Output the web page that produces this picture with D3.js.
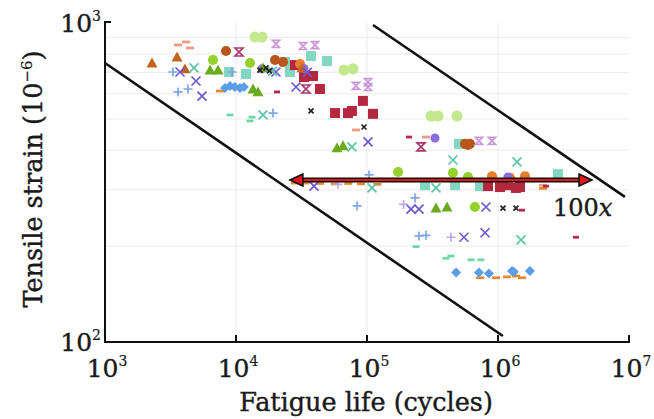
<!DOCTYPE html>
<html><head><meta charset="utf-8">
<script src="https://cdn.jsdelivr.net/npm/d3@7"></script>
<style>body{margin:0;background:#fff}svg{display:block}</style>
</head><body>
<svg id="c" width="654" height="419"></svg>
<script>
// ---- data: [fatigue life (cycles), tensile strain (1e-6)] ----
const xTicks = [1e3, 1e4, 1e5, 1e6, 1e7];
const xTickExp = ["3", "4", "5", "6", "7"];
const yTicks = [1e2, 1e3];
const yTickExp = ["2", "3"];
const yGrid = [200, 300, 400, 500, 600, 700, 800, 900];
const xGrid = [1e4, 1e5, 1e6];

const brownTriangles = [[2285,749],[3548,782],[4080,718],[31920,723]];
const brownCircles = [[8390,817],[19860,766],[22850,755],[559800,418],[611000,418],[590200,415]];
const orangeCircles = [[30830,744],[899500,331],[1607000,331],[1236000,327]];
const paleGreenCircles = [[13960,904],[15790,904],[66680,712],[78160,718],[308300,511],[348300,511],[486400,511]];
const limeCircles = [[6670,766],[12790,749],[172600,341],[452900,339],[590200,329],[666800,265]];
const greenTriangles = [[6340,712],[7290,712],[13490,621],[14720,608],[59020,406],[65610,412],[336500,263],[408300,265],[16070,723]];
const tealSquares = [[8850,702],[11920,692],[23660,755],[37400,788],[49550,760],[503500,418],[2871000,336],[277300,310],[469900,310],[729400,308],[25820,702]];
const crimsonSquares = [[28200,738],[33040,677],[38730,682],[43750,621],[57020,522],[71610,522],[76740,530],[93110,570],[111100,519],[839500,308],[1035000,306],[1472000,306],[1191000,310],[1371000,304]];
const purpleX = [[3738,702],[4950,658],[5500,590],[28710,630],[101800,424],[39360,308],[216700,261],[249400,261],[809100,265],[549500,213],[796200,220],[20180,702],[35000,700]];
const magentaHourglass = [[10540,811],[34200,621],[258300,409]];
const pinkX = [[20180,860],[32450,847],[40090,853],[82410,635],[101800,653],[101800,630],[716100,427],[899500,427]];
const bluePlus = [[3606,608],[4300,621],[19150,522],[83950,267],[249400,215],[281800,216],[232400,283],[103500,334],[9310,702],[3300,702]];
const lilacPlus = [[190000,270],[437500,213],[60000,312]];
const tealX = [[4780,723],[16070,515],[76740,409],[452900,372],[1396000,367],[1500000,209],[336500,304],[109200,304],[19000,705]];
const salmonDash = [[3606,853],[4150,872],[4456,835],[82410,462],[281800,439],[2208000,310],[36000,317],[210000,320]];
const tealDash = [[8990,515],[12790,493],[13250,507],[236600,199],[400900,183],[437500,186],[622300,181],[741300,181]];
const blueDiamonds = [[8240,625],[9000,635],[9800,630],[10730,625],[11500,630],[479000,165],[716100,165],[853100,164],[1279000,167],[1320000,166],[1754000,167]];
const orangeDash = [[7550,612],[729400,159],[966000,159],[1172000,160],[1371000,161],[1524000,159],[28200,315],[33650,315],[43750,314],[57020,313],[72000,314],[90000,313],[120000,312],[2208000,303]];
const blackX = [[15240,712],[16940,723],[37400,530],[94840,472],[1092000,263],[1371000,263],[18000,708]];
const purpleCircles = [[15790,718],[330400,436],[1191000,329],[33000,720]];
const redDash = [[20560,608],[209400,439],[2323000,308],[1524000,259],[3936000,213]];

const boundLower = [[1000,749],[1090000,104.4]];
const boundUpper = [[111100,986],[9310000,285]];
const arrowSpan = [[25800,322],[5220000,322]];
const arrowLabel = {x: 2630000, y: 248, text: "100", italic: "x"};

// ---- layout ----
const svg = d3.select("#c");
const L = 105, R = 629, T = 23, B = 342;
const x = d3.scaleLog().domain([1e3, 1e7]).range([L, R]);
const y = d3.scaleLog().domain([1e2, 1e3]).range([B, T]);
const FONT = "DejaVu Serif";
const INK = "#1a1a1a";

// grid
svg.append("g").selectAll("line").data(yGrid).join("line")
  .attr("x1", L).attr("x2", R).attr("y1", d => y(d)).attr("y2", d => y(d))
  .attr("stroke", "#ebebeb").attr("stroke-width", 1);
svg.append("g").selectAll("line").data(xGrid).join("line")
  .attr("y1", T).attr("y2", B).attr("x1", d => x(d)).attr("x2", d => x(d))
  .attr("stroke", "#ebebeb").attr("stroke-width", 1);

// marker drawers
const g = svg.append("g");
function shape(data, kind, color, s) {
  const sel = g.append("g").selectAll("path").data(data).join("path")
    .attr("transform", d => `translate(${x(d[0])},${y(d[1])})`);
  const h = s / 2;
  if (kind === "circle") sel.attr("d", d3.symbol(d3.symbolCircle, s * s * 0.8)()).attr("fill", color);
  else if (kind === "square") sel.attr("d", `M${-h},${-h}H${h}V${h}H${-h}Z`).attr("fill", color);
  else if (kind === "triangle") sel.attr("d", `M0,${-h}L${h},${h * 0.8}L${-h},${h * 0.8}Z`).attr("fill", color);
  else if (kind === "diamond") sel.attr("d", `M0,${-h}L${h},0L0,${h}L${-h},0Z`).attr("fill", color);
  else if (kind === "x") sel.attr("d", `M${-h},${-h}L${h},${h}M${h},${-h}L${-h},${h}`).attr("stroke", color).attr("stroke-width", 1.7).attr("fill", "none");
  else if (kind === "hourglass") sel.attr("d", `M${-h},${-h}H${h}L${-h},${h}H${h}Z`).attr("stroke", color).attr("stroke-width", 1.7).attr("fill", "none");
  else if (kind === "plus") sel.attr("d", `M${-h},0H${h}M0,${-h}V${h}`).attr("stroke", color).attr("stroke-width", 1.7).attr("fill", "none");
  else if (kind === "dash") sel.attr("d", `M${-h},-1.4H${h}V1.4H${-h}Z`).attr("fill", color);
}
shape(paleGreenCircles, "circle", "#c4e88e", 11);
shape(tealDash, "dash", "#6fd8a6", 7);
shape(salmonDash, "dash", "#ee9a84", 8);
shape(orangeDash, "dash", "#e5892f", 8);
shape(tealSquares, "square", "#83d6c2", 10);
shape(crimsonSquares, "square", "#b3283f", 10);
shape(brownCircles, "circle", "#b8561c", 10);
shape(orangeCircles, "circle", "#e67f2c", 10);
shape(limeCircles, "circle", "#94d12a", 10);
shape(purpleCircles, "circle", "#8a6ee0", 9);
shape(blueDiamonds, "diamond", "#5b9de6", 10);
shape(brownTriangles, "triangle", "#c4631c", 11);
shape(greenTriangles, "triangle", "#6aab1f", 11);
shape(purpleX, "x", "#6f58cf", 9);
shape(pinkX, "hourglass", "#cc98d6", 7);
shape(magentaHourglass, "hourglass", "#a63a6c", 8);
shape(tealX, "x", "#5ec6a6", 9);
shape(blackX, "x", "#222", 5);
shape(bluePlus, "plus", "#7ea5e6", 9);
shape(lilacPlus, "plus", "#b9a9e6", 9);
shape(redDash, "dash", "#b8284a", 6);

// bound lines
const line = d3.line().x(d => x(d[0])).y(d => y(d[1]));
[boundLower, boundUpper].forEach(d => svg.append("path").attr("d", line(d))
  .attr("stroke", "#111").attr("stroke-width", 2.6).attr("fill", "none"));

// arrow
const ax1 = x(arrowSpan[0][0]), ax2 = x(arrowSpan[1][0]), ay = y(arrowSpan[0][1]);
const ah = 13, aw = 6;
svg.append("line").attr("x1", ax1 + ah - 2).attr("x2", ax2 - ah + 2).attr("y1", ay).attr("y2", ay)
  .attr("stroke", "#111").attr("stroke-width", 5);
svg.append("line").attr("x1", ax1 + ah - 2).attr("x2", ax2 - ah + 2).attr("y1", ay).attr("y2", ay)
  .attr("stroke", "#e01818").attr("stroke-width", 2);
svg.append("path").attr("d", `M${ax1},${ay}L${ax1 + ah},${ay - aw}L${ax1 + ah},${ay + aw}Z`)
  .attr("fill", "#e01818").attr("stroke", "#111").attr("stroke-width", 1.5);
svg.append("path").attr("d", `M${ax2},${ay}L${ax2 - ah},${ay - aw}L${ax2 - ah},${ay + aw}Z`)
  .attr("fill", "#e01818").attr("stroke", "#111").attr("stroke-width", 1.5);
const lab = svg.append("text").attr("x", x(arrowLabel.x)).attr("y", y(arrowLabel.y))
  .attr("font-family", FONT).attr("font-size", 24).attr("fill", INK)
  .attr("stroke", INK).attr("stroke-width", 0.4);
lab.append("tspan").text(arrowLabel.text);
lab.append("tspan").attr("font-style", "italic").text(arrowLabel.italic);

// axes
svg.append("path").attr("d", `M${L + 6},${T - 1}H${L}V${B}H${R}V${B - 7}`)
  .attr("stroke", "#111").attr("stroke-width", 2).attr("fill", "none");
svg.append("g").selectAll("line").data(xTicks.slice(1, 4)).join("line")
  .attr("x1", d => x(d)).attr("x2", d => x(d)).attr("y1", B).attr("y2", B - 7)
  .attr("stroke", "#111").attr("stroke-width", 2);

const xl = svg.append("g").selectAll("text").data(xTicks).join("text")
  .attr("x", d => x(d) + 2).attr("y", 377).attr("text-anchor", "middle")
  .attr("font-family", FONT).attr("font-size", 25).attr("fill", INK)
  .attr("stroke", INK).attr("stroke-width", 0.4);
xl.append("tspan").text("10");
xl.append("tspan").attr("dy", -11).attr("font-size", 14).attr("stroke-width", 0.2).text((d, i) => xTickExp[i]);

const yl = svg.append("g").selectAll("text").data(yTicks).join("text")
  .attr("x", 101).attr("y", d => y(d) + 9).attr("text-anchor", "end")
  .attr("font-family", FONT).attr("font-size", 25).attr("fill", INK)
  .attr("stroke", INK).attr("stroke-width", 0.4);
yl.append("tspan").text("10");
yl.append("tspan").attr("dy", -11).attr("font-size", 14).attr("stroke-width", 0.2).text((d, i) => yTickExp[i]);

svg.append("text").attr("x", 366).attr("y", 411).attr("text-anchor", "middle")
  .attr("font-family", FONT).attr("font-size", 25.5).attr("fill", INK)
  .attr("stroke", INK).attr("stroke-width", 0.4)
  .text("Fatigue life (cycles)");
const yt = svg.append("text").attr("transform", "translate(42,179) rotate(-90)")
  .attr("text-anchor", "middle").attr("font-family", FONT).attr("font-size", 25.5).attr("fill", INK)
  .attr("stroke", INK).attr("stroke-width", 0.4);
yt.append("tspan").text("Tensile strain (10");
yt.append("tspan").attr("dy", -10).attr("font-size", 15).attr("stroke-width", 0.2).text("−6");
yt.append("tspan").attr("dy", 10).text(")");
</script>
</body></html>
